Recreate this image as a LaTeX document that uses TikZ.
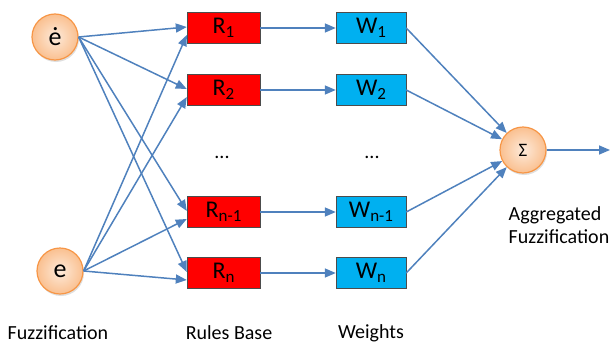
\documentclass[tikz,border=0pt]{standalone}
\usepackage{fontspec}
\setmainfont{Carlito}
\usetikzlibrary{arrows.meta,shadows}
\definecolor{linkblue}{HTML}{4F81BD}
\definecolor{ballrim}{HTML}{F79646}
\definecolor{ballin}{HTML}{FDEADA}
\definecolor{ballout}{HTML}{FAC090}
\definecolor{wblue}{HTML}{00B0F0}
\newcommand{\lo}[1]{\raisebox{-0.3ex}{\fontsize{17}{17}\selectfont #1}}

\begin{document}
\begin{tikzpicture}[x=1pt,y=-1pt,
        every node/.style={font=\fontsize{20}{23}\selectfont},
        ball/.style={circle,minimum size=46pt,inner sep=0pt,draw=ballrim,line width=1.2pt,
            inner color=ballin,outer color=ballout,font=\fontsize{26}{26}\selectfont,
            drop shadow={opacity=0.25,shadow xshift=1pt,shadow yshift=-2pt}},
        rule/.style={rectangle,minimum width=73pt,minimum height=31pt,inner sep=0pt,fill=red,draw=black!70,thin,
            font=\fontsize{24}{24}\selectfont},
        weight/.style={rule,minimum width=70pt,fill=wblue},
        link/.style={draw=linkblue,line width=1.5pt,-{Triangle[length=11pt,width=9pt]}}]
        \useasboundingbox (0,0) rectangle (612,345);

        \node[ball] (ed) at (55,37) {\.{e}};
        \node[ball] (e) at (60,271) {e};
        \node[ball,font=\fontsize{19}{19}\selectfont] (sum) at (523,150) {Σ};
        \coordinate (out) at (610,150);

        \foreach \n/\y/\t in {1/28/1,2/90/2,3/212/n-1,4/273/n}
        {
            \node[rule] (r\n) at (223.5,\y) {R\lo{\t}};
            \node[weight] (w\n) at (371,\y) {W\lo{\t}};
        }

        \foreach \n in {1,...,4}
        {
            \draw[link] (ed.east) -- ([yshift=1pt]r\n.west);
            \draw[link] (e.east) -- ([yshift=-7pt]r\n.west);
            \draw[link] (r\n) -- (w\n);
            \draw[link] (w\n.east) -- (sum);
        }
        \draw[link] (sum) -- (out);

        \node (dr) at (222,157) {...};
        \node (dw) at (372,157) {...};

        \node (lfuzz) at (58,333) {Fuzzification};
        \node (lrules) at (229,333) {Rules Base};
        \node (lweights) at (371,333) {Weights};
        \node[align=left] (lagg) at (559,225) {Aggregated\\Fuzzification};
    \end{tikzpicture}
\end{document}
